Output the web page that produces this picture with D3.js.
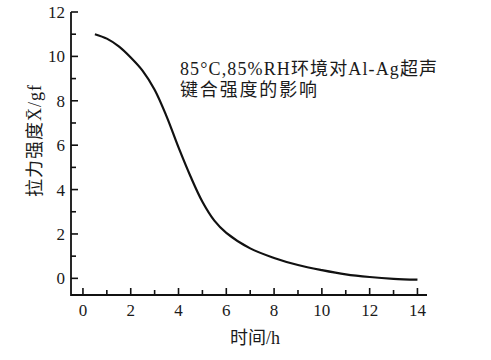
<!doctype html>
<html lang="zh">
<head>
<meta charset="utf-8" />
<title>85°C,85%RH环境对Al-Ag超声键合强度的影响</title>
<script src="https://d3js.org/d3.v7.min.js"></script>
<style>
  body { margin: 0; background: #fff; }
  svg text { font-family: "Liberation Serif", "Noto Sans CJK SC", serif; fill: #1a1a1a; }
</style>
</head>
<body>
<div id="chart"></div>
<script>
// data
const timeH = [0.5, 1, 1.5, 2, 2.5, 3, 3.5, 4, 4.5, 5, 5.5, 6, 7, 8, 9, 10, 11, 12, 13, 14];
const strength = [11.0, 10.8, 10.45, 9.95, 9.35, 8.5, 7.3, 5.9, 4.6, 3.45, 2.6, 2.05, 1.35, 0.92, 0.6, 0.37, 0.18, 0.06, -0.02, -0.06];
const xTicks = [0, 2, 4, 6, 8, 10, 12, 14];
const xMinor = [1, 3, 5, 7, 9, 11, 13];
const yTicks = [0, 2, 4, 6, 8, 10, 12];
const yMinor = [1, 3, 5, 7, 9, 11];
const xTitle = "时间/h";
const yTitle = "拉力强度X\u0304/gf";
const note = ["85°C,85%RH环境对Al-Ag超声", "键合强度的影响"];

const W = 491, H = 360;
const ink = "#111";
const svg = d3.select("#chart").append("svg")
  .attr("width", W).attr("height", H);

const x = d3.scaleLinear().domain([-0.5, 14.4]).range([71, 427]);
const y = d3.scaleLinear().domain([-0.75, 12]).range([295, 12]);
const x0 = x.range()[0], y0 = y.range()[0];

// axes with inward ticks
const gx = svg.append("g").attr("transform", `translate(0,${y0})`);
gx.selectAll("line.tk").data(xTicks.concat(xMinor)).join("line")
  .attr("class", "tk")
  .attr("x1", d => x(d)).attr("x2", d => x(d))
  .attr("y1", 0).attr("y2", d => (d % 2 === 0 ? -7 : -5))
  .attr("stroke", ink).attr("stroke-width", 1.6);
gx.selectAll("text").data(xTicks).join("text")
  .attr("x", d => x(d)).attr("y", 21)
  .attr("text-anchor", "middle")
  .style("font-size", "17px")
  .text(d => d);

const gy = svg.append("g").attr("transform", `translate(${x0},0)`);
gy.selectAll("line.tk").data(yTicks.concat(yMinor)).join("line")
  .attr("class", "tk")
  .attr("x1", 0).attr("x2", d => (d % 2 === 0 ? 7 : 5))
  .attr("y1", d => y(d)).attr("y2", d => y(d))
  .attr("stroke", ink).attr("stroke-width", 1.6);
gy.selectAll("text").data(yTicks).join("text")
  .attr("x", -6).attr("y", d => y(d))
  .attr("dy", "0.35em")
  .attr("text-anchor", "end")
  .style("font-size", "17px")
  .text(d => d);

svg.append("path")
  .attr("d", `M${x0},${y(12)}V${y0}H${x.range()[1]}`)
  .attr("fill", "none").attr("stroke", ink).attr("stroke-width", 1.8);

// curve
const line = d3.line()
  .x((d, i) => x(timeH[i]))
  .y(d => y(d))
  .curve(d3.curveCatmullRom.alpha(0.5));
svg.append("path")
  .datum(strength)
  .attr("d", line)
  .attr("fill", "none")
  .attr("stroke", "#111")
  .attr("stroke-width", 2.2);

// titles
svg.append("text")
  .attr("x", 255).attr("y", 344)
  .attr("text-anchor", "middle")
  .style("font-size", "18px")
  .text(xTitle);

svg.append("text")
  .attr("transform", "translate(41,141) rotate(-90)")
  .attr("text-anchor", "middle")
  .attr("textLength", 112)
  .attr("lengthAdjust", "spacing")
  .style("font-size", "18px")
  .text(yTitle);

// annotation
svg.append("text")
  .attr("x", 180).attr("y", 75)
  .attr("textLength", 257)
  .attr("lengthAdjust", "spacing")
  .style("font-size", "18px")
  .text(note[0]);
svg.append("text")
  .attr("x", 180).attr("y", 96)
  .attr("textLength", 137)
  .attr("lengthAdjust", "spacing")
  .style("font-size", "18px")
  .text(note[1]);
</script>
</body>
</html>
